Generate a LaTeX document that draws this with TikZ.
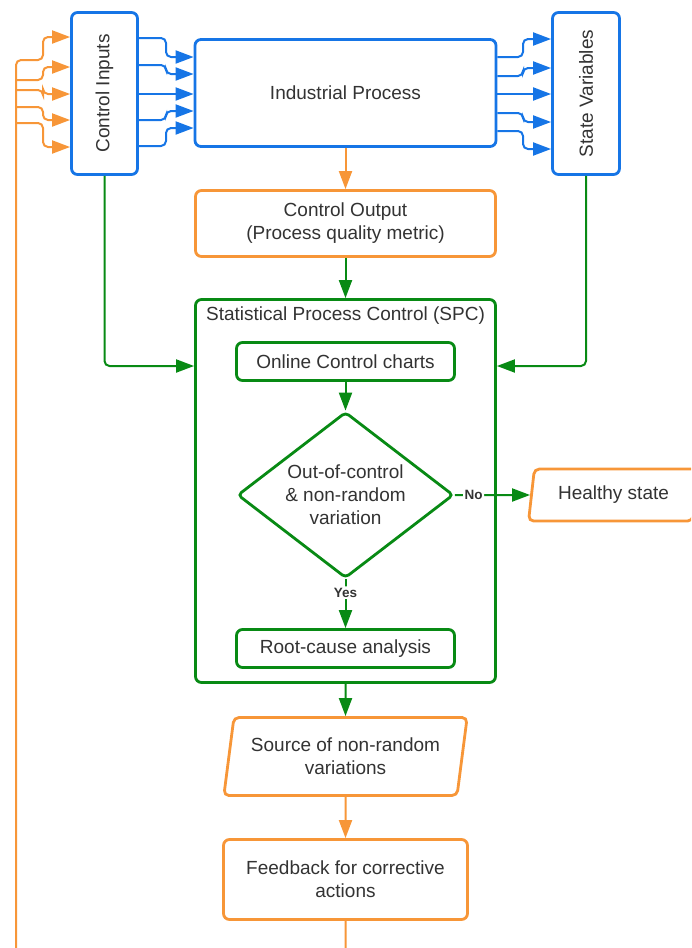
\documentclass[tikz,border=0pt]{standalone}
\usepackage{fontspec}
\setmainfont{Liberation Sans}
\usetikzlibrary{arrows.meta,shapes.geometric}
\definecolor{lcblue}{RGB}{22,117,230}
\definecolor{lcorange}{RGB}{247,150,56}
\definecolor{lcgreen}{RGB}{8,138,20}
\definecolor{ink}{RGB}{51,51,51}

\begin{document}
\begin{tikzpicture}[x=1pt,y=-1pt,
  txt/.style={text=ink, font=\fontsize{19}{23}\selectfont, align=center},
  box/.style={txt, draw, line width=2.8pt, rounded corners=6pt, fill=white, inner sep=0pt},
  bluebox/.style={box, draw=lcblue},
  orangebox/.style={box, draw=lcorange},
  greenbox/.style={box, draw=lcgreen},
  slanted/.style={box, draw=lcorange, trapezium, trapezium left angle=77,
    trapezium right angle=103, trapezium stretches=true, rounded corners=5pt},
  decision/.style={box, draw=lcgreen, diamond, aspect=1.29, rounded corners=4pt},
  link/.style={line width=2pt, rounded corners=5pt, -{Triangle[length=18pt,width=13pt]}},
  bluelink/.style={link, draw=lcblue},
  orangelink/.style={link, draw=lcorange},
  greenlink/.style={link, draw=lcgreen},
  answer/.style={fill=white, text=ink, font=\bfseries\fontsize{13.5}{15}\selectfont, inner sep=1.5pt},
]
\useasboundingbox (0,0) rectangle (691,948);
\clip (0,0) rectangle (691,948);

% process blocks
\node[bluebox, minimum width=66pt, minimum height=162pt] (ci) at (104.5,93.5) {\rotatebox{90}{Control Inputs}};
\node[bluebox, minimum width=301pt, minimum height=107pt] (ip) at (345.5,93) {Industrial Process};
\node[bluebox, minimum width=67pt, minimum height=162pt] (sv) at (586,93.5) {\rotatebox{90}{State Variables}};
\node[orangebox, minimum width=300pt, minimum height=66pt] (co) at (345.5,223.5) {Control Output\\(Process quality metric)};

% SPC block
\node[greenbox, minimum width=300pt, minimum height=383pt] (spc) at (345.5,491) {};
\node[txt, anchor=base] (spctitle) at (345.5,320) {Statistical Process Control (SPC)};
\node[greenbox, minimum width=218pt, minimum height=38pt] (occ) at (345.5,361.5) {Online Control charts};
\node[decision, minimum width=216pt, minimum height=166pt] (dec) at (345.5,495) {Out-of-control\\\& non-random\\variation};
\node[greenbox, minimum width=218pt, minimum height=38pt] (rca) at (345.5,648.5) {Root-cause analysis};
\node[slanted, minimum width=170pt, minimum height=52pt] (ok) at (613.5,495) {Healthy state};

% corrective branch
\node[slanted, minimum width=244pt, minimum height=78pt] (src) at (345.5,756.5) {Source of non-random\\variations};
\node[orangebox, minimum width=244pt, minimum height=80pt] (fb) at (345.5,879.5) {Feedback for corrective\\actions};

% inputs into the process
\draw[bluelink] (ci.east |- 0,38) -- (166,38) -- (166,57) -- (ip.west |- 0,57);
\draw[bluelink] (ci.east |- 0,65) -- (166,65) -- (166,74) -- (ip.west |- 0,74);
\draw[bluelink] (ci.east |- 0,94) -- (ip.west |- 0,94);
\draw[bluelink] (ci.east |- 0,120) -- (166,120) -- (166,111) -- (ip.west |- 0,111);
\draw[bluelink] (ci.east |- 0,146) -- (166,146) -- (166,128) -- (ip.west |- 0,128);

% process to state variables
\draw[bluelink] (ip.east |- 0,57) -- (523,57) -- (523,39) -- (sv.west |- 0,39);
\draw[bluelink] (ip.east |- 0,76) -- (523,76) -- (523,68) -- (sv.west |- 0,68);
\draw[bluelink] (ip.east |- 0,94) -- (sv.west |- 0,94);
\draw[bluelink] (ip.east |- 0,113) -- (523,113) -- (523,122) -- (sv.west |- 0,122);
\draw[bluelink] (ip.east |- 0,131) -- (523,131) -- (523,149) -- (sv.west |- 0,149);

% main flow
\draw[orangelink] (ip.south) -- (co.north);
\draw[greenlink] (co.south) -- (spc.north);
\draw[greenlink] (ci.south) |- (spc.west |- 0,366);
\draw[greenlink] (sv.south) |- (spc.east |- 0,366);
\draw[greenlink] (occ.south) -- (dec.north);
\draw[greenlink] (dec.south) -- node[answer, pos=0.27] {Yes} (rca.north);
\draw[greenlink] (dec.east) -- node[answer, pos=0.25] {No} (ok.west);
\draw[greenlink] (spc.south) -- (src.north);
\draw[orangelink] (src.south) -- (fb.north);

% feedback loop back to the control inputs
\draw[orangelink] (fb.south) -- (fb.south |- 0,955) -- (16,955) -- (16,60) -- (43,60) -- (43,37) -- (ci.west |- 0,37);
\draw[orangelink] (16,80) -- (43,80) -- (43,67) -- (ci.west |- 0,67);
\draw[orangelink] (16,90) -- (43,90) -- (43,94) -- (ci.west |- 0,94);
\draw[orangelink] (16,107) -- (43,107) -- (43,120) -- (ci.west |- 0,120);
\draw[orangelink] (16,123) -- (43,123) -- (43,147) -- (ci.west |- 0,147);
\end{tikzpicture}
\end{document}
